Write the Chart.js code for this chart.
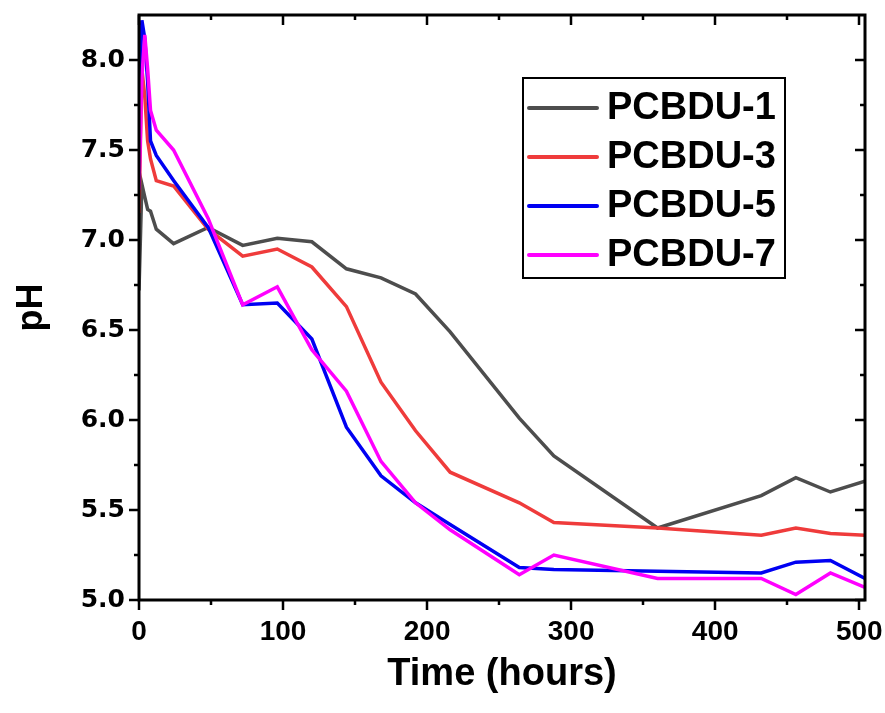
<!DOCTYPE html>
<html>
<head>
<meta charset="utf-8">
<script src="https://cdn.jsdelivr.net/npm/chart.js@4.4.1/dist/chart.umd.min.js"></script>
<style>
  html, body { margin: 0; padding: 0; background: #fff; overflow: hidden; }
  #phChart { display: block; }
</style>
</head>
<body>
<canvas id="phChart" width="885" height="713"></canvas>
<script>
// sampling times (hours)
const times = [0, 2, 4, 6, 8, 12, 24, 48, 72, 96, 120, 144, 168, 192, 216, 264, 288, 360, 432, 456, 480, 504];

// pH readings per sample
const pcbdu1 = [6.72, 7.31, 7.24, 7.17, 7.16, 7.06, 6.98, 7.07, 6.97, 7.01, 6.99, 6.84, 6.79, 6.70, 6.49, 6.01, 5.80, 5.40, 5.58, 5.68, 5.60, 5.66];
const pcbdu3 = [7.15, 7.95, 7.80, 7.55, 7.45, 7.33, 7.30, 7.06, 6.91, 6.95, 6.85, 6.63, 6.21, 5.94, 5.71, 5.54, 5.43, 5.40, 5.36, 5.40, 5.37, 5.36];
const pcbdu5 = [7.75, 8.22, 8.12, 7.88, 7.55, 7.47, 7.33, 7.07, 6.64, 6.65, 6.45, 5.96, 5.69, 5.54, 5.42, 5.18, 5.17, 5.16, 5.15, 5.21, 5.22, 5.12];
const pcbdu7 = [7.28, 7.90, 8.14, 7.95, 7.72, 7.61, 7.50, 7.12, 6.64, 6.74, 6.39, 6.16, 5.77, 5.54, 5.39, 5.14, 5.25, 5.12, 5.12, 5.03, 5.15, 5.07];

const seriesNames = ['PCBDU-1', 'PCBDU-3', 'PCBDU-5', 'PCBDU-7'];
const xTicks = [0, 100, 200, 300, 400, 500];
const yTicks = [5.0, 5.5, 6.0, 6.5, 7.0, 7.5, 8.0];

const colors = ['#4d4d4d', '#ef3b3b', '#0000f2', '#ff00ff'];

function toPoints(vals) {
  return times.map((t, i) => ({ x: t, y: vals[i] }));
}

// minor ticks sit halfway between the major ones
function withMinors(major) {
  const out = [];
  for (let i = 0; i < major.length; i++) {
    out.push({ v: major[i], major: true });
    if (i < major.length - 1) out.push({ v: (major[i] + major[i + 1]) / 2, major: false });
  }
  return out;
}

const frameTicks = {
  id: 'frameTicks',
  afterDatasetsDraw(chart) {
    const { ctx, chartArea: a, scales: { x, y } } = chart;
    ctx.save();
    ctx.strokeStyle = '#000';
    ctx.lineWidth = 2.5;
    ctx.beginPath();
    for (const t of withMinors(xTicks)) {
      const px = Math.round(x.getPixelForValue(t.v));
      const len = t.major ? 10 : 5;
      ctx.moveTo(px, a.bottom); ctx.lineTo(px, a.bottom + len);
      ctx.moveTo(px, a.top); ctx.lineTo(px, a.top + len);
    }
    for (const t of withMinors(yTicks)) {
      const py = Math.round(y.getPixelForValue(t.v));
      const len = t.major ? 10 : 5;
      ctx.moveTo(a.left, py); ctx.lineTo(a.left - len, py);
      ctx.moveTo(a.right, py); ctx.lineTo(a.right - len, py);
    }
    ctx.stroke();
    ctx.lineWidth = 3;
    ctx.strokeRect(a.left, a.top, a.right - a.left, a.bottom - a.top);
    ctx.restore();
  }
};

const boxLegend = {
  id: 'boxLegend',
  afterDraw(chart) {
    const { ctx } = chart;
    const box = { x: 523, y: 78, w: 262, h: 200 };
    ctx.save();
    ctx.fillStyle = '#fff';
    ctx.fillRect(box.x, box.y, box.w, box.h);
    ctx.strokeStyle = '#000';
    ctx.lineWidth = 2;
    ctx.strokeRect(box.x, box.y, box.w, box.h);
    ctx.font = 'bold 38px "Liberation Sans", Arial, sans-serif';
    ctx.textBaseline = 'middle';
    ctx.textAlign = 'left';
    chart.data.datasets.forEach((ds, i) => {
      const rowY = 108 + i * 49;
      ctx.strokeStyle = ds.borderColor;
      ctx.lineWidth = 4;
      ctx.lineCap = 'round';
      ctx.beginPath();
      ctx.moveTo(529, rowY);
      ctx.lineTo(597, rowY);
      ctx.stroke();
      ctx.fillStyle = '#000';
      ctx.fillText(ds.label, 607, rowY + 1);
    });
    ctx.restore();
  }
};

const seriesVals = [pcbdu1, pcbdu3, pcbdu5, pcbdu7];

new Chart(document.getElementById('phChart').getContext('2d'), {
  type: 'line',
  data: {
    datasets: seriesVals.map((vals, i) => ({
      label: seriesNames[i],
      data: toPoints(vals),
      borderColor: colors[i],
      backgroundColor: colors[i],
      borderWidth: 3.5,
      pointRadius: 0,
      tension: 0,
      order: seriesVals.length - i
    }))
  },
  options: {
    responsive: false,
    animation: false,
    devicePixelRatio: 1,
    layout: { padding: { top: 15, right: 20, left: 0, bottom: 0 } },
    plugins: { legend: { display: false }, tooltip: { enabled: false } },
    scales: {
      x: {
        type: 'linear',
        min: 0,
        max: 504,
        afterBuildTicks: s => { s.ticks = xTicks.map(v => ({ value: v })); },
        afterFit: s => { s.height = 113; s.paddingLeft = 0; s.paddingRight = 0; },
        grid: { display: false, drawTicks: false },
        border: { display: false },
        ticks: {
          color: '#000',
          padding: 15,
          maxRotation: 0,
          font: { family: '"Liberation Sans", Arial, sans-serif', size: 28, weight: 'bold' }
        },
        title: {
          display: true,
          text: 'Time (hours)',
          color: '#000',
          padding: { top: 0, bottom: 16 },
          font: { family: '"Liberation Sans", Arial, sans-serif', size: 38, weight: 'bold' }
        }
      },
      y: {
        min: 5.0,
        max: 8.25,
        afterBuildTicks: s => { s.ticks = yTicks.map(v => ({ value: v })); },
        afterFit: s => { s.width = 139; s.paddingTop = 0; s.paddingBottom = 0; },
        grid: { display: false, drawTicks: false },
        border: { display: false },
        ticks: {
          color: '#000',
          padding: 14,
          callback: v => Number(v).toFixed(1),
          font: { family: '"DejaVu Sans", sans-serif', size: 25, weight: 'bold' }
        },
        title: {
          display: true,
          text: 'pH',
          color: '#000',
          padding: { top: 10, bottom: 0 },
          font: { family: '"Liberation Sans", Arial, sans-serif', size: 36, weight: 'bold' }
        }
      }
    }
  },
  plugins: [frameTicks, boxLegend]
});
</script>
</body>
</html>
